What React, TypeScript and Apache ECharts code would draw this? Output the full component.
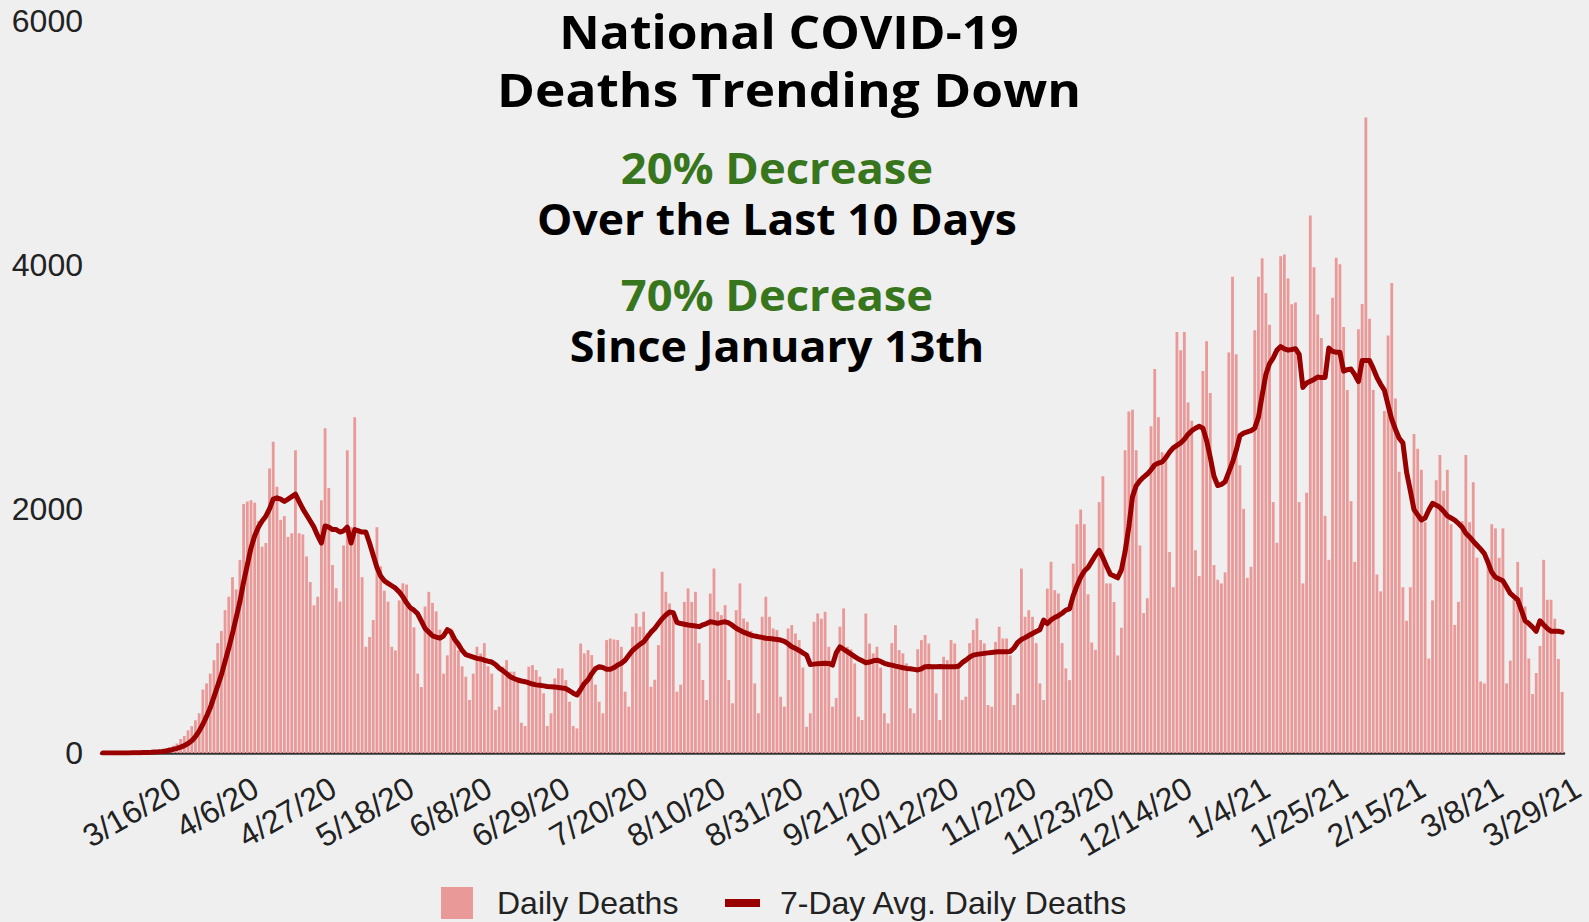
import React, { useEffect, useRef } from "react";
import * as echarts from "echarts";

// Daily deaths, one value per day starting 2/29/20
const dailyDeaths = [
  1, 1, 1, 2, 3, 2, 3,
  4, 5, 5, 8, 9, 10, 12,
  15, 18, 24, 35, 48, 60, 78,
  115, 140, 185, 220, 268, 325, 520,
  570, 650, 760, 900, 1000, 1170, 1280,
  1440, 1340, 1580, 2040, 2060, 2070, 2050,
  1900, 1690, 1720, 2330, 2550, 2180, 1910,
  1940, 1770, 1800, 2480, 1800, 1790, 1610,
  1400, 1210, 1280, 2070, 2660, 2170, 1540,
  1350, 1240, 1700, 2480, 1850, 2750, 1840,
  1440, 870, 950, 1090, 1850, 1530, 1330,
  1240, 870, 840, 1250, 1390, 1380, 1200,
  1030, 650, 540, 1200, 1320, 1230, 1160,
  1010, 650, 800, 1020, 950, 840, 710,
  625, 435, 650, 870, 815, 900, 710,
  650, 352, 380, 707, 761, 666, 666,
  620, 248, 221, 707, 720, 680, 625,
  489, 221, 325, 611, 693, 693, 597,
  420, 221, 202, 897, 816, 843, 802,
  560, 420, 325, 925, 938, 930, 925,
  870, 502, 380, 1034, 1143, 1034, 1157,
  979, 543, 600, 884, 1484, 1320, 1225,
  1129, 502, 560, 1238, 1348, 1238, 1320,
  900, 598, 434, 1306, 1511, 1157, 1129,
  1211, 598, 407, 1170, 1389, 1102, 1075,
  1000, 570, 325, 1116, 1280, 1116, 1020,
  1007, 461, 380, 1020, 1048, 979, 925,
  700, 215, 325, 1075, 1143, 1100, 1157,
  870, 379, 450, 1034, 1184, 870, 850,
  734, 297, 270, 1143, 897, 816, 870,
  700, 325, 243, 900, 1047, 843, 816,
  734, 366, 325, 850, 925, 966, 897,
  700, 488, 270, 788, 761, 925, 897,
  734, 434, 461, 900, 1007, 1102, 925,
  897, 393, 379, 911, 1034, 938, 938,
  800, 393, 488, 1511, 1116, 1170, 1116,
  900, 570, 434, 1347, 1566, 1334, 1307,
  900, 693, 597, 1552, 1874, 1994, 1874,
  1300, 905, 845, 2055, 2267, 1389, 1389,
  1237, 799, 1026, 2479, 2797, 2812, 2479,
  1700, 1146, 1268, 2676, 3145, 2751, 2464,
  2449, 1646, 1358, 3448, 3300, 3448, 2872,
  2721, 1661, 1449, 3130, 3372, 2948, 1540,
  1419, 1389, 1480, 3281, 3902, 3266, 2357,
  2000, 1435, 1525, 3463, 3902, 4053, 3766,
  3508, 2055, 1722, 4068, 4083, 3887, 3675,
  3690, 2055, 1389, 2131, 4402, 3978, 3592,
  3400, 1943, 1582, 3729, 4056, 4004, 3489,
  2973, 2063, 1565, 3471, 3678, 5206, 3557,
  2973, 1462, 1324, 2801, 3420, 3849, 2904,
  2304, 1358, 1083, 1358, 2612, 2492, 2320,
  1891, 774, 1250, 2235, 2441, 2149, 2320,
  1874, 1049, 1238, 1900, 2441, 1891, 2218,
  1600, 586, 570, 1530, 1874, 1840, 1599,
  1840, 570, 757, 1255, 1565, 1358, 1200,
  774, 483, 655, 877, 1582, 1255, 1255,
  1100, 770, 500,
];

// 7-day average daily deaths, one value per day starting 2/29/20
const avgDeaths = [
  0, 0, 0, 0, 1, 1, 1, 1, 2, 2, 3, 4, 5, 6,
  8, 10, 13, 17, 22, 30, 38,
  48, 60, 78, 100, 135, 180, 235,
  300, 370, 460, 550, 640, 750, 860,
  980, 1110, 1240, 1400, 1540, 1680, 1780,
  1850, 1900, 1940, 2000, 2080, 2090, 2080,
  2060, 2080, 2100, 2120, 2060, 2000, 1950,
  1900, 1850, 1780, 1720, 1860, 1850, 1830,
  1830, 1810, 1820, 1850, 1720, 1830, 1820,
  1810, 1810, 1720, 1620, 1520, 1450, 1410,
  1390, 1370, 1350, 1320, 1280, 1230, 1190,
  1170, 1140, 1080, 1020, 990, 960, 950,
  940, 960, 1010, 990, 930, 890, 840,
  805, 795, 785, 775, 770, 760, 752,
  745, 725, 695, 675, 650, 625, 610,
  598, 590, 584, 575, 565, 558, 555,
  550, 545, 543, 540, 537, 532, 528,
  510, 490, 475, 520, 570, 600, 650,
  690, 707, 700, 685, 685, 700, 720,
  735, 760, 800, 840, 865, 890, 910,
  950, 990, 1020, 1060, 1100, 1130, 1155,
  1150, 1070, 1060, 1055, 1048, 1045, 1040,
  1035, 1050, 1060, 1075, 1070, 1062, 1070,
  1075, 1065, 1045, 1022, 1005, 990, 978,
  966, 958, 952, 947, 940, 938, 934,
  930, 925, 915, 895, 870, 857, 840,
  820, 802, 725, 728, 732, 734, 736,
  734, 720, 820, 870, 850, 830, 810,
  790, 770, 755, 740, 745, 755, 760,
  750, 735, 725, 720, 712, 705, 698,
  693, 690, 685, 680, 690, 707, 708,
  706, 707, 708, 707, 706, 707, 706,
  710, 740, 761, 785, 802, 808, 812,
  816, 820, 824, 828, 830, 830, 830,
  832, 860, 905, 930, 945, 962, 979,
  995, 1010, 1088, 1060, 1090, 1110, 1125,
  1145, 1170, 1180, 1290, 1370, 1440, 1490,
  1520, 1570, 1620, 1660, 1600, 1530, 1465,
  1450, 1435, 1500, 1650, 1850, 2100, 2190,
  2230, 2260, 2285, 2320, 2360, 2375, 2385,
  2420, 2464, 2500, 2520, 2540, 2570, 2610,
  2640, 2660, 2676, 2661, 2560, 2420, 2267,
  2191, 2200, 2222, 2300, 2380, 2479, 2600,
  2620, 2630, 2640, 2661, 2751, 2930, 3100,
  3190, 3236, 3300, 3330, 3310, 3300, 3305,
  3312, 3266, 2994, 3030, 3045, 3060, 3080,
  3075, 3076, 3317, 3290, 3283, 3283, 3128,
  3140, 3145, 3100, 3042, 3214, 3214, 3214,
  3150, 3076, 3020, 2973, 2850, 2732, 2650,
  2578, 2540, 2300, 2150, 1994, 1950, 1908,
  1925, 1990, 2045, 2030, 2011, 1980, 1942,
  1925, 1908, 1880, 1850, 1800, 1770, 1735,
  1702, 1670, 1633, 1560, 1480, 1440, 1425,
  1410, 1360, 1307, 1280, 1255, 1170, 1083,
  1060, 1031, 997, 1083, 1050, 1020, 997,
  997, 997, 990,
];

const firstDay = { year: 2020, month: 1, day: 29 }; // 2/29/20
const labelFirstIndex = 16; // 3/16/20
const labelStep = 21;
const yTicks = { min: 0, max: 6000, interval: 2000 };

const seriesNames = ["Daily Deaths", "7-Day Avg. Daily Deaths"];

const headlineLines = ["National COVID-19", "Deaths Trending Down"];
const statLines = [
  { text: "20% Decrease", green: true },
  { text: "Over the Last 10 Days", green: false },
  { text: "70% Decrease", green: true },
  { text: "Since January 13th", green: false },
];

function buildDates(n: number): string[] {
  const out: string[] = [];
  for (let i = 0; i < n; i++) {
    const dt = new Date(Date.UTC(firstDay.year, firstDay.month, firstDay.day + i));
    out.push(
      `${dt.getUTCMonth() + 1}/${dt.getUTCDate()}/${String(dt.getUTCFullYear()).slice(2)}`
    );
  }
  return out;
}

const AXIS_FONT = "Arial, 'Liberation Sans', sans-serif";
const TITLE_FONT = "'Open Sans', sans-serif";

export default function App() {
  const ref = useRef<HTMLDivElement>(null);

  useEffect(() => {
    if (!ref.current) return;
    const chart = echarts.init(ref.current, undefined, { renderer: "svg" });
    const dates = buildDates(dailyDeaths.length);

    const headlineY = [31, 88];
    const headlineScale = [1.06, 1.094];
    const statY = [167, 218, 294, 345];
    const statScale = [1.055, 1.035, 1.055, 1.043];

    const graphics: any[] = [];
    headlineLines.forEach((t, k) => {
      graphics.push({
        type: "text",
        x: 789,
        y: headlineY[k],
        scaleX: headlineScale[k],
        style: {
          text: t,
          fontSize: 47,
          lineHeight: 46,
          fontWeight: "bold",
          fontFamily: TITLE_FONT,
          fill: "#000000",
          align: "center",
          verticalAlign: "middle",
        },
      });
    });
    statLines.forEach((s, k) => {
      graphics.push({
        type: "text",
        x: 777,
        y: statY[k],
        scaleX: statScale[k],
        style: {
          text: s.text,
          fontSize: 43,
          lineHeight: 44,
          fontWeight: "bold",
          fontFamily: TITLE_FONT,
          fill: s.green ? "#38761d" : "#000000",
          align: "center",
          verticalAlign: "middle",
        },
      });
    });

    chart.setOption({
      animation: false,
      backgroundColor: "#efefef",
      grid: { left: 101, right: 25, top: 20.5, bottom: 169, containLabel: false },
      legend: [
        {
          data: [{ name: seriesNames[0], icon: "rect" }],
          left: 441,
          top: 887,
          padding: 0,
          itemWidth: 32,
          itemHeight: 32,
          selectedMode: false,
          textStyle: {
            fontSize: 32,
            lineHeight: 32,
            color: "#222222",
            fontFamily: AXIS_FONT,
            padding: [0, 0, 0, 19],
          },
        },
        {
          data: [{ name: seriesNames[1], icon: "rect" }],
          left: 725,
          top: 887,
          padding: 0,
          itemWidth: 35,
          itemHeight: 8,
          selectedMode: false,
          textStyle: {
            fontSize: 32,
            lineHeight: 32,
            color: "#222222",
            fontFamily: AXIS_FONT,
            padding: [0, 0, 0, 15],
          },
        },
      ],
      xAxis: {
        type: "category",
        data: dates,
        boundaryGap: true,
        axisLine: { show: true, lineStyle: { color: "#333333", width: 2.5 } },
        axisTick: { show: false },
        splitLine: { show: false },
        axisLabel: {
          interval: (index: number) =>
            index >= labelFirstIndex && (index - labelFirstIndex) % labelStep === 0,
          rotate: 30,
          align: "right",
          verticalAlign: "top",
          margin: 23,
          padding: [0, -9, 0, 0],
          fontSize: 32,
          color: "#222222",
          fontFamily: AXIS_FONT,
        },
      },
      yAxis: {
        type: "value",
        min: yTicks.min,
        max: yTicks.max,
        interval: yTicks.interval,
        axisLine: { show: false },
        axisTick: { show: false },
        splitLine: { show: false },
        axisLabel: {
          margin: 18,
          fontSize: 32,
          color: "#222222",
          fontFamily: AXIS_FONT,
          formatter: (v: number) => String(v),
        },
      },
      series: [
        {
          name: seriesNames[0],
          type: "bar",
          data: dailyDeaths,
          itemStyle: { color: "#ea9999" },
          barCategoryGap: "24%",
          z: 1,
        },
        {
          name: seriesNames[1],
          type: "line",
          data: avgDeaths,
          color: "#990000",
          symbol: "none",
          lineStyle: { color: "#990000", width: 5, join: "round", cap: "round" },
          itemStyle: { color: "#990000" },
          z: 3,
        },
      ],
      graphic: graphics,
    });

    return () => chart.dispose();
  }, []);

  return (
    <div
      ref={ref}
      style={{ position: "absolute", left: 0, top: 0, width: 1589, height: 922 }}
    />
  );
}
